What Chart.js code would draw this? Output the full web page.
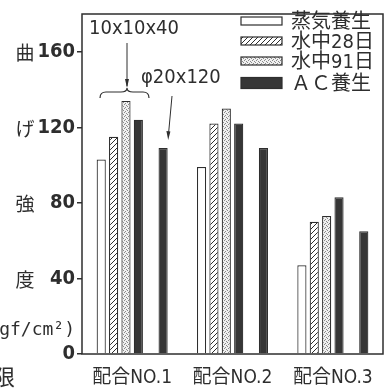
<!DOCTYPE html>
<html>
<head>
<meta charset="utf-8">
<script src="https://cdn.jsdelivr.net/npm/chart.js"></script>
<style>
  html, body { margin: 0; padding: 0; background: #fff; }
  #wrap { width: 386px; height: 390px; }
</style>
</head>
<body>
<div id="wrap"><canvas id="chart" width="386" height="390"></canvas></div>
<script>
// data
const categories = ['配合NO.1', '配合NO.2', '配合NO.3'];
const steamCured = [103, 99, 47];      // 蒸気養生
const water28 = [115, 122, 70];        // 水中28日
const water91 = [134, 130, 73];        // 水中91日
const acCured = [124, 122, 83];        // ＡＣ養生 (10x10x40)
const acCuredPhi = [109, 109, 65];     // ＡＣ養生 (φ20x120)
const yTicks = [0, 40, 80, 120, 160];
const yTitles = ['度', '強', 'げ', '曲'];   // beside 40, 80, 120, 160
const legendLabels = ['蒸気養生', '水中28日', '水中91日', 'ＡＣ養生'];

const ink = '#2e2e2e';
const narrow = '"DejaVu Sans Condensed", "Noto Sans CJK JP", sans-serif';
const cjk = '"Noto Sans CJK JP", sans-serif';

// fill patterns
function hatch() {
    const c = document.createElement('canvas');
    c.width = c.height = 5;
    const g = c.getContext('2d');
    g.fillStyle = '#fff';
    g.fillRect(0, 0, 5, 5);
    g.strokeStyle = ink;
    g.lineWidth = 1;
    g.beginPath();
    g.moveTo(-1, 6); g.lineTo(6, -1);
    g.moveTo(-1, 1); g.lineTo(1, -1);
    g.moveTo(4, 6); g.lineTo(6, 4);
    g.stroke();
    return g.createPattern(c, 'repeat');
}
function dots() {
    const c = document.createElement('canvas');
    c.width = c.height = 4;
    const g = c.getContext('2d');
    g.fillStyle = '#f0f0f0';
    g.fillRect(0, 0, 4, 4);
    g.fillStyle = '#8a8a8a';
    [[0, 0], [2, 1], [1, 3], [3, 2]].forEach(([x, y]) => g.fillRect(x, y, 1, 1));
    return g.createPattern(c, 'repeat');
}
const fills = ['#ffffff', hatch(), dots(), '#363636'];

const decor = {
    id: 'decor',
    afterDraw(chart) {
        const ctx = chart.ctx;
        const a = chart.chartArea;
        const y = chart.scales.y;
        ctx.save();
        // frame
        ctx.strokeStyle = ink;
        ctx.lineWidth = 1.5;
        ctx.strokeRect(a.left, a.top, a.right - a.left, a.bottom - a.top);

        // vertical axis title, one character per tick
        ctx.fillStyle = ink;
        ctx.font = '19px ' + cjk;
        ctx.textAlign = 'center';
        ctx.textBaseline = 'middle';
        yTitles.forEach((t, i) => {
            ctx.fillText(t, 25, y.getPixelForValue(yTicks[i + 1]) + 1);
        });
        ctx.font = '18px "DejaVu Sans Mono", monospace';
        ctx.textAlign = 'right';
        ctx.fillText('(kgf/cm²)', 75, 330);
        ctx.font = '22px ' + cjk;
        ctx.fillText('限', 15, 377);

        // legend
        ctx.textAlign = 'left';
        ctx.font = '20px ' + narrow;
        const rows = [21, 41, 61, 83];
        rows.forEach((ry, i) => {
            const h = i === 3 ? 11 : 8;
            ctx.fillStyle = fills[i];
            ctx.fillRect(241, ry - h / 2, 41, h);
            ctx.strokeStyle = ink;
            ctx.lineWidth = 1.2;
            ctx.strokeRect(241, ry - h / 2, 41, h);
            ctx.fillStyle = ink;
            ctx.fillText(legendLabels[i], 291, ry + 2);
        });

        // specimen size notes
        ctx.font = '20px ' + narrow;
        ctx.fillText('10x10x40', 89, 29);
        ctx.fillText('φ20x120', 141, 78);

        ctx.lineWidth = 1;
        ctx.beginPath();
        ctx.moveTo(127, 43); ctx.lineTo(127, 86);
        ctx.moveTo(172, 96); ctx.lineTo(168.5, 134);
        ctx.stroke();
        ctx.beginPath();
        ctx.moveTo(127, 88); ctx.lineTo(125, 79); ctx.lineTo(129, 79); ctx.closePath();
        ctx.moveTo(168.2, 140); ctx.lineTo(166.4, 131); ctx.lineTo(170.4, 131.4); ctx.closePath();
        ctx.fill();

        // brace
        ctx.lineWidth = 1.2;
        ctx.beginPath();
        ctx.moveTo(100, 98);
        ctx.quadraticCurveTo(100, 92, 106, 92);
        ctx.lineTo(121, 92);
        ctx.quadraticCurveTo(127, 92, 127, 88);
        ctx.quadraticCurveTo(127, 92, 133, 92);
        ctx.lineTo(143, 92);
        ctx.quadraticCurveTo(149, 92, 149, 98);
        ctx.stroke();
        ctx.restore();
    }
};

const bar = (label, data, fill) => ({
    label,
    data,
    backgroundColor: fill,
    borderColor: ink,
    borderWidth: 1.2
});

new Chart(document.getElementById('chart'), {
    type: 'bar',
    data: {
        labels: categories,
        datasets: [
            bar(legendLabels[0], steamCured, fills[0]),
            bar(legendLabels[1], water28, fills[1]),
            bar(legendLabels[2], water91, fills[2]),
            bar(legendLabels[3], acCured, fills[3]),
            bar('', [null, null, null], fills[3]),
            bar(legendLabels[3] + ' φ20x120', acCuredPhi, fills[3])
        ]
    },
    options: {
        responsive: false,
        animation: false,
        layout: { padding: { top: 5, right: 3, left: 0, bottom: 0 } },
        datasets: { bar: { categoryPercentage: 0.74, barPercentage: 0.74 } },
        plugins: { legend: { display: false }, tooltip: { enabled: false } },
        scales: {
            x: {
                grid: { display: false },
                border: { display: false },
                ticks: { color: ink, font: { family: narrow, size: 19 }, padding: 5 },
                afterFit: s => { s.height = 36; }
            },
            y: {
                min: 0,
                max: 180,
                grid: { drawOnChartArea: false, drawTicks: true, tickLength: 5, color: ink, lineWidth: 1.5 },
                border: { display: false },
                ticks: {
                    stepSize: 40,
                    padding: 2,
                    color: ink,
                    font: { family: narrow, size: 20, weight: 'bold' }
                },
                afterBuildTicks: s => { s.ticks = yTicks.map(v => ({ value: v })); },
                afterFit: s => { s.width = 82; }
            }
        }
    },
    plugins: [decor]
});
</script>
</body>
</html>
